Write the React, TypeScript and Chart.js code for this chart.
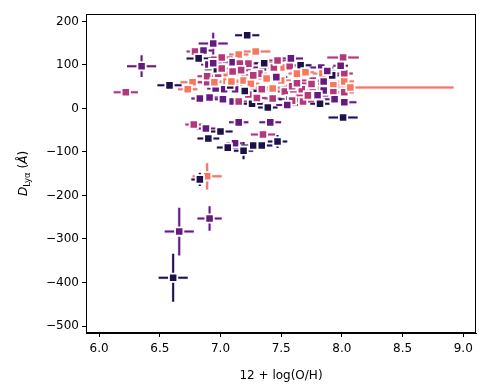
import { useEffect, useRef } from 'react';
import { Chart, registerables } from 'chart.js';
Chart.register(...registerables);

const COLORS = ['#1d1147', '#641a80', '#b5367a', '#f8765c'];

const metallicity = [
  6.35, 6.22, 6.58, 6.77, 6.73, 6.89, 6.94, 6.79, 6.86, 6.82,
  6.90, 7.22, 7.15, 7.29, 7.10, 7.16, 7.05, 7.05, 7.19, 6.83,
  6.91, 7.02, 7.10, 7.15, 7.03, 7.12, 7.23, 7.35, 7.32, 7.44,
  7.52, 7.57, 7.66, 7.83, 8.01, 6.98, 7.10, 7.25, 7.38, 7.50,
  7.63, 7.76, 7.84, 7.92, 8.02, 8.02, 7.93, 7.34, 7.43, 7.53,
  7.59, 7.67, 7.76, 7.85, 7.43, 7.68, 7.80, 8.02, 8.02, 7.93,
  7.85, 8.07, 8.01, 6.78, 6.88, 6.90, 7.00, 7.15, 7.41, 7.35,
  7.12, 7.06, 7.19, 7.27, 7.34, 7.47, 6.89, 6.83, 6.91, 6.66,
  6.61, 7.08, 7.39, 7.57, 7.26, 7.82,
  6.96, 6.89, 7.01, 7.23, 7.58, 7.59, 7.70, 7.94, 6.97, 7.01,
  7.09, 6.94, 7.17, 7.27, 7.46, 7.63, 7.72, 7.88, 7.36, 7.47,
  7.20, 6.95, 7.55, 7.75, 7.99, 7.30,
];
const dLya = [
  97, 37, 53, 60, 44, 60, 149, 131, 133, 115,
  101, 168, 124, 131, 106, 103, 78, 62, 64, 23,
  25, 21, 16, 16, 44, 44, 32, 94, 80, 94,
  94, 97, 99, 94, 117, 80, 85, 57, 69, 64,
  80, 64, 80, 76, 80, 62, 53, 44, 46, 39,
  51, 44, 48, 41, 23, 16, 30, 14, 37, 37,
  62, 48, -21, -37, -46, -69, -53, -32, -32, -60,
  -80, -90, -97, -85, -85, -76, -156, -163, -253, -283,
  -389, 53, 2, 21, 11, 11,
  46, 74, 117, 103, 115, 18, 83, 21, 90, 92,
  62, 104, 88, 76, 72, 58, 30, 86, 104, 110,
  40, 60, 8, 56, 98, 24,
];
const metallicityErr = [
  0.12, 0.10, 0.10, 0.10, 0.08, 0.08, 0.12, 0.07, 0.08, 0.10,
  0.06, 0.10, 0.08, 0.12, 0.08, 0.07, 0.10, 0.12, 0.08, 0.07,
  0.08, 0.07, 0.06, 0.08, 0.10, 0.09, 0.07, 0.09, 0.06, 0.10,
  0.08, 0.07, 0.09, 0.10, 0.13, 0.08, 0.10, 0.07, 0.09, 0.08,
  0.07, 0.10, 0.08, 0.09, 0.07, 0.08, 0.06, 0.09, 0.08, 0.10,
  0.07, 0.09, 0.08, 0.10, 0.07, 0.09, 0.12, 0.10, 0.08, 0.07,
  0.09, 0.85, 0.12, 0.07, 0.08, 0.09, 0.10, 0.08, 0.09, 0.10,
  0.07, 0.09, 0.08, 0.10, 0.09, 0.08, 0.12, 0.07, 0.10, 0.12,
  0.12, 0.10, 0.08, 0.09, 0.10, 0.08,
  0.07, 0.08, 0.09, 0.07, 0.10, 0.08, 0.07, 0.09, 0.10, 0.08,
  0.09, 0.07, 0.08, 0.10, 0.09, 0.08, 0.10, 0.07, 0.08, 0.09,
  0.10, 0.08, 0.09, 0.07, 0.06, 0.08,
];
const dLyaErr = [
  25, 5, 5, 6, 5, 6, 25, 8, 6, 7,
  8, 6, 7, 6, 8, 6, 7, 6, 6, 8,
  7, 6, 8, 6, 6, 7, 8, 6, 7, 6,
  5, 8, 6, 7, 6, 7, 6, 6, 7, 5,
  6, 7, 6, 5, 7, 6, 6, 7, 6, 5,
  7, 6, 5, 6, 8, 6, 7, 6, 5, 6,
  6, 3, 4, 8, 7, 8, 6, 10, 8, 10,
  10, 9, 20, 8, 8, 15, 30, 15, 28, 55,
  55, 8, 7, 6, 6, 5,
  6, 7, 6, 5, 7, 6, 5, 6, 8, 7,
  6, 5, 7, 6, 8, 6, 5, 7, 6, 5,
  7, 6, 5, 6, 7, 6,
];
const colorGroup = [
  1, 2, 0, 3, 3, 2, 1, 2, 1, 0,
  1, 0, 3, 3, 1, 2, 3, 3, 3, 1,
  1, 1, 1, 2, 1, 1, 2, 1, 2, 2,
  3, 2, 0, 1, 2, 2, 2, 3, 3, 3,
  3, 2, 3, 0, 2, 3, 3, 2, 3, 2,
  2, 2, 2, 1, 2, 2, 1, 1, 2, 2,
  1, 3, 0, 2, 1, 0, 0, 1, 1, 2,
  1, 0, 0, 0, 0, 0, 3, 0, 1, 1,
  0, 0, 0, 0, 0, 0,
  1, 2, 2, 2, 1, 2, 3, 1, 0, 2,
  3, 1, 2, 2, 1, 2, 2, 1, 0, 2,
  0, 3, 1, 2, 1, 2,
];

const xTicks = [6.0, 6.5, 7.0, 7.5, 8.0, 8.5, 9.0];
const yTicks = [-500, -400, -300, -200, -100, 0, 100, 200];
const xLabel = '12 + log(O/H)';

const FONT = '"DejaVu Sans", sans-serif';

export default function App() {
  const ref = useRef<HTMLCanvasElement | null>(null);

  useEffect(() => {
    const canvas = ref.current;
    if (!canvas) return;

    const errorBars = {
      id: 'errorBars',
      beforeDatasetsDraw(chart: any) {
        const { ctx, scales, chartArea } = chart;
        const xs = scales.x;
        const ys = scales.y;
        ctx.save();
        ctx.beginPath();
        ctx.rect(chartArea.left, chartArea.top, chartArea.right - chartArea.left, chartArea.bottom - chartArea.top);
        ctx.clip();
        for (let i = 0; i < metallicity.length; i++) {
          const cx = xs.getPixelForValue(metallicity[i]);
          const cy = ys.getPixelForValue(dLya[i]);
          const x0 = xs.getPixelForValue(metallicity[i] - metallicityErr[i]);
          const x1 = xs.getPixelForValue(metallicity[i] + metallicityErr[i]);
          const y0 = ys.getPixelForValue(dLya[i] - dLyaErr[i]);
          const y1 = ys.getPixelForValue(dLya[i] + dLyaErr[i]);
          const col = COLORS[colorGroup[i]];
          for (const pass of [0, 1]) {
            ctx.beginPath();
            ctx.moveTo(x0, cy);
            ctx.lineTo(x1, cy);
            ctx.moveTo(cx, y0);
            ctx.lineTo(cx, y1);
            ctx.lineCap = 'butt';
            if (pass === 0) {
              ctx.strokeStyle = 'rgba(220,205,240,0.55)';
              ctx.lineWidth = 3.6;
            } else {
              ctx.strokeStyle = col;
              ctx.lineWidth = 2;
            }
            ctx.stroke();
          }
        }
        ctx.restore();
      },
    };

    const frame = {
      id: 'frame',
      afterDraw(chart: any) {
        const { ctx, chartArea } = chart;
        ctx.save();
        ctx.strokeStyle = '#000';
        ctx.lineWidth = 1;
        ctx.strokeRect(Math.round(chartArea.left) + 0.5, Math.round(chartArea.top) + 0.5,
          Math.round(chartArea.right - chartArea.left) - 1, Math.round(chartArea.bottom - chartArea.top) - 1);
        ctx.translate(23, (chartArea.top + chartArea.bottom) / 2);
        ctx.rotate(-Math.PI / 2);
        ctx.fillStyle = '#000';
        ctx.textBaseline = 'alphabetic';
        const parts = [
          { t: 'D', f: `italic 12px ${FONT}`, dy: 0 },
          { t: 'Lyα', f: `8.5px ${FONT}`, dy: 2.5 },
          { t: ' (', f: `12px ${FONT}`, dy: 0 },
          { t: 'Å', f: `italic 12px ${FONT}`, dy: 0 },
          { t: ')', f: `12px ${FONT}`, dy: 0 },
        ];
        let total = 0;
        for (const p of parts) { ctx.font = p.f; total += ctx.measureText(p.t).width; }
        let x = -total / 2;
        for (const p of parts) {
          ctx.font = p.f;
          ctx.fillText(p.t, x, 4 + p.dy);
          x += ctx.measureText(p.t).width;
        }
        ctx.restore();
      },
    };

    const chart = new Chart(canvas, {
      type: 'scatter',
      data: {
        datasets: [
          {
            data: metallicity.map((x, i) => ({ x, y: dLya[i] })),
            backgroundColor: colorGroup.map((g) => COLORS[g]),
            borderColor: '#ffffff',
            borderWidth: 1.8,
            pointStyle: 'rect',
            pointRadius: 5.9,
            pointHoverRadius: 5.9,
          },
        ],
      },
      options: {
        animation: false,
        responsive: false,
        events: [],
        layout: { padding: { left: 0, right: 15, top: 14, bottom: 0 } },
        plugins: { legend: { display: false }, tooltip: { enabled: false } },
        scales: {
          x: {
            type: 'linear',
            min: 5.892,
            max: 9.105,
            afterBuildTicks: (s: any) => { s.ticks = xTicks.map((v) => ({ value: v })); },
            afterFit: (s: any) => { s.height = 59; },
            grid: { drawOnChartArea: false, tickLength: 4, color: '#000', tickColor: '#000' },
            border: { display: true, color: '#000' },
            ticks: {
              color: '#000',
              font: { family: FONT, size: 12 },
              padding: 5,
              maxRotation: 0,
              callback: (v: any) => Number(v).toFixed(1),
            },
            title: {
              display: true,
              text: xLabel,
              color: '#000',
              font: { family: FONT, size: 12 },
              padding: { top: 0, bottom: 9 },
            },
          },
          y: {
            type: 'linear',
            min: -516,
            max: 217,
            afterBuildTicks: (s: any) => { s.ticks = yTicks.map((v) => ({ value: v })); },
            afterFit: (s: any) => { s.width = 86; },
            grid: { drawOnChartArea: false, tickLength: 4, color: '#000', tickColor: '#000' },
            border: { display: true, color: '#000' },
            ticks: {
              color: '#000',
              font: { family: FONT, size: 12 },
              padding: 3,
              callback: (v: any) => String(v).replace('-', '\u2212'),
            },
          },
        },
      },
      plugins: [errorBars, frame],
    });
    return () => chart.destroy();
  }, []);

  return (
    <div style={{ position: 'fixed', left: 0, top: 0, width: 491, height: 392, background: '#fff' }}>
      <canvas ref={ref} width={491} height={392} style={{ width: 491, height: 392 }} />
    </div>
  );
}
